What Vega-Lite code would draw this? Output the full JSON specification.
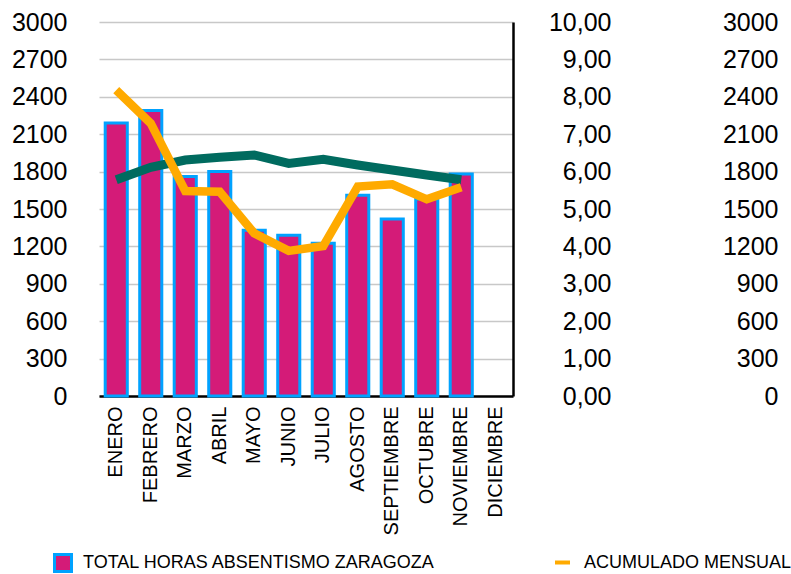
{
  "$schema": "https://vega.github.io/schema/vega-lite/v6.json",
  "width": 414,
  "height": 374,
  "autosize": {"type": "none"},
  "padding": {"left": 99, "top": 22, "right": 278, "bottom": 178},
  "background": "white",
  "config": {
    "view": {"stroke": null},
    "font": "Liberation Sans",
    "axis": {"labelFont": "Liberation Sans", "labelColor": "black"},
    "legend": {"labelFont": "Liberation Sans", "labelColor": "black"}
  },
  "data": {
    "values": [
      {"mes": "ENERO", "horas": 2190, "acumulado": 8.18, "tendencia": 1735},
      {"mes": "FEBRERO", "horas": 2290, "acumulado": 7.29, "tendencia": 1835},
      {"mes": "MARZO", "horas": 1760, "acumulado": 5.48, "tendencia": 1893},
      {"mes": "ABRIL", "horas": 1800, "acumulado": 5.46, "tendencia": 1915},
      {"mes": "MAYO", "horas": 1330, "acumulado": 4.35, "tendencia": 1933},
      {"mes": "JUNIO", "horas": 1290, "acumulado": 3.88, "tendencia": 1866},
      {"mes": "JULIO", "horas": 1225, "acumulado": 4.01, "tendencia": 1899},
      {"mes": "AGOSTO", "horas": 1610, "acumulado": 5.6, "tendencia": 1853},
      {"mes": "SEPTIEMBRE", "horas": 1420, "acumulado": 5.66, "tendencia": 1813},
      {"mes": "OCTUBRE", "horas": 1580, "acumulado": 5.26, "tendencia": 1773},
      {"mes": "NOVIEMBRE", "horas": 1780, "acumulado": 5.58, "tendencia": 1735},
      {"mes": "DICIEMBRE", "horas": null, "acumulado": null, "tendencia": null}
    ]
  },
  "layer": [
    {
      "mark": {"type": "bar", "stroke": "#00A2FF", "strokeWidth": 3},
      "encoding": {
        "x": {
          "field": "mes", "type": "nominal", "sort": null,
          "scale": {"domain": ["ENERO","FEBRERO","MARZO","ABRIL","MAYO","JUNIO","JULIO","AGOSTO","SEPTIEMBRE","OCTUBRE","NOVIEMBRE","DICIEMBRE"], "paddingInner": 0.36, "paddingOuter": 0.18},
          "axis": {"title": null, "labelAngle": 270, "labelFontSize": 20, "labelPadding": 10, "ticks": false, "domainColor": "black", "domainWidth": 2.5, "grid": false}
        },
        "y": {
          "field": "horas", "type": "quantitative",
          "scale": {"domain": [0, 3000], "nice": false},
          "axis": {"title": null, "orient": "left", "format": "d", "values": [0,300,600,900,1200,1500,1800,2100,2400,2700,3000], "labelFontSize": 25, "labelPadding": 32, "ticks": false, "domain": false, "grid": true, "gridColor": "#c8c8c8", "gridWidth": 1.5}
        },
        "fill": {
          "datum": "TOTAL HORAS ABSENTISMO ZARAGOZA", "type": "nominal",
          "scale": {"range": ["#D41B78"]},
          "legend": {"orient": "none", "legendX": -46, "legendY": 531, "title": null, "symbolType": "square", "symbolSize": 289, "symbolStrokeColor": "#00A2FF", "symbolStrokeWidth": 3, "symbolOpacity": 1, "labelFontSize": 18, "labelOffset": 10, "labelLimit": 500}
        }
      }
    },
    {
      "mark": {"type": "line", "color": "#006B5F", "strokeWidth": 9},
      "encoding": {
        "x": {"field": "mes", "type": "nominal", "sort": null},
        "y": {
          "field": "tendencia", "type": "quantitative",
          "scale": {"domain": [0, 3000], "nice": false},
          "axis": {"title": null, "orient": "right", "format": "d", "values": [0,300,600,900,1200,1500,1800,2100,2400,2700,3000], "labelFontSize": 25, "labelAlign": "right", "labelPadding": 265, "ticks": false, "domain": false, "grid": false}
        }
      }
    },
    {
      "mark": {"type": "line", "strokeWidth": 8.5},
      "encoding": {
        "x": {"field": "mes", "type": "nominal", "sort": null},
        "y": {
          "field": "acumulado", "type": "quantitative",
          "scale": {"domain": [0, 10], "nice": false},
          "axis": {"title": null, "orient": "right", "values": [0,1,2,3,4,5,6,7,8,9,10], "labelExpr": "replace(format(datum.value, '.2f'), '.', ',')", "labelFontSize": 25, "labelAlign": "right", "labelPadding": 98, "ticks": false, "domain": true, "domainColor": "black", "domainWidth": 2.5, "grid": false}
        },
        "stroke": {
          "datum": "ACUMULADO MENSUAL", "type": "nominal",
          "scale": {"range": ["#FFAA00"]},
          "legend": {"orient": "none", "legendX": 454, "legendY": 531, "title": null, "symbolType": "stroke", "symbolSize": 225, "symbolStrokeWidth": 4, "labelFontSize": 18, "labelOffset": 12, "labelLimit": 500}
        }
      }
    }
  ],
  "resolve": {"scale": {"y": "independent"}}
}
